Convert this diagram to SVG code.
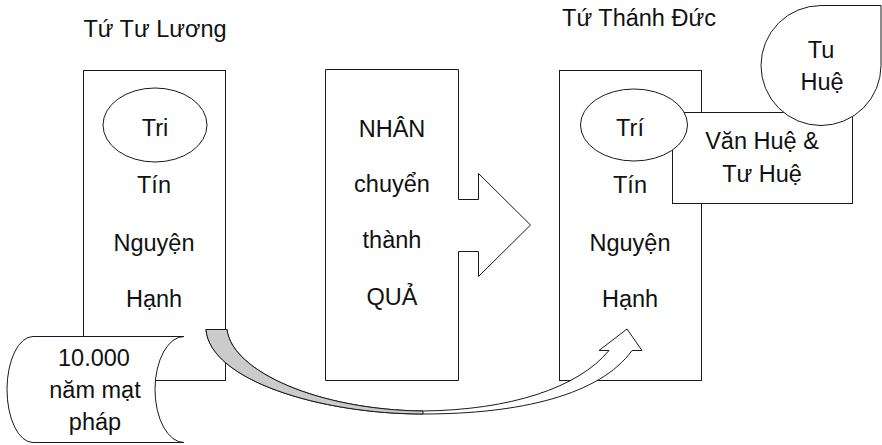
<svg xmlns="http://www.w3.org/2000/svg" width="882" height="445" viewBox="0 0 882 445">
<style>
  .shape { fill: #ffffff; stroke: #1a1a1a; stroke-width: 1; }
  .t { font-family: "Liberation Sans", Arial, sans-serif; font-size: 23.5px; fill: #111111; text-anchor: middle; }
</style>
<rect width="882" height="445" fill="#ffffff"/>

<g id="title-tu-tu-luong">
  <text class="t" x="155" y="37">Tứ Tư Lương</text>
</g>
<g id="title-tu-thanh-duc">
  <text class="t" x="639" y="26">Tứ Thánh Đức</text>
</g>

<g id="box-tu-tu-luong">
  <rect class="shape" x="83.5" y="70.5" width="142" height="310"/>
  <ellipse class="shape" cx="155" cy="125" rx="52" ry="37"/>
  <text class="t" x="155" y="136">Tri</text>
  <text class="t" x="154" y="193">Tín</text>
  <text class="t" x="154" y="251">Nguyện</text>
  <text class="t" x="154" y="307">Hạnh</text>
</g>

<g id="box-nhan-qua">
  <path class="shape" d="M325.5,69.5 L458.5,69.5 L458.5,199.5 L478.5,199.5 L478.5,173.5 L530.5,225 L478.5,276.5 L478.5,251.5 L458.5,251.5 L458.5,380.5 L325.5,380.5 Z"/>
  <text class="t" x="392" y="137">NHÂN</text>
  <text class="t" x="392" y="192">chuyển</text>
  <text class="t" x="392" y="248">thành</text>
  <text class="t" x="392" y="305">QUẢ</text>
</g>

<g id="box-tu-thanh-duc">
  <rect class="shape" x="559.5" y="70.5" width="142" height="310"/>
  <text class="t" x="630" y="193">Tín</text>
  <text class="t" x="630" y="251">Nguyện</text>
  <text class="t" x="630" y="307">Hạnh</text>
</g>

<g id="van-hue-tu-hue">
  <rect class="shape" x="672.5" y="112.5" width="180" height="91"/>
  <text class="t" x="762" y="149">Văn Huệ &amp;</text>
  <text class="t" x="762" y="182">Tư Huệ</text>
</g>

<g id="tri-ellipse">
  <ellipse class="shape" cx="634" cy="125" rx="53.5" ry="36"/>
  <text class="t" x="630" y="136">Trí</text>
</g>

<g id="tu-hue">
  <path class="shape" d="M761,65.5 A60,60 0 0 1 821,5.5 L881,5.5 L881,65.5 A60,60 0 0 1 821,125.5 A60,60 0 0 1 761,65.5 Z"/>
  <text class="t" x="821" y="58">Tu</text>
  <text class="t" x="822" y="90">Huệ</text>
</g>

<g id="mat-phap">
  <path class="shape" d="M33,336.5 L184,336.5 A29,53 0 0 0 184,442.5 L33,442.5 A26,53 0 0 1 33,336.5 Z"/>
  <text class="t" x="94" y="366">10.000</text>
  <text class="t" x="95" y="398">năm mạt</text>
  <text class="t" x="95" y="430">pháp</text>
</g>

<g id="connectors">
  <path class="shape" d="M206,329.5 C210,380 320,414 423,414 C520,414 600,395 632,350.5 L642,350.5 L627,329 L599,350.5 L609,350.5 C578,388 510,410 423,411 C320,410 232,372 227,329.5 Z"/>
  <path d="M206,329.5 C210,380 320,414 423,414 L423,411 C320,410 232,372 227,329.5 Z" fill="#cbcbcb" stroke="#1a1a1a" stroke-width="1"/>
</g>
</svg>
